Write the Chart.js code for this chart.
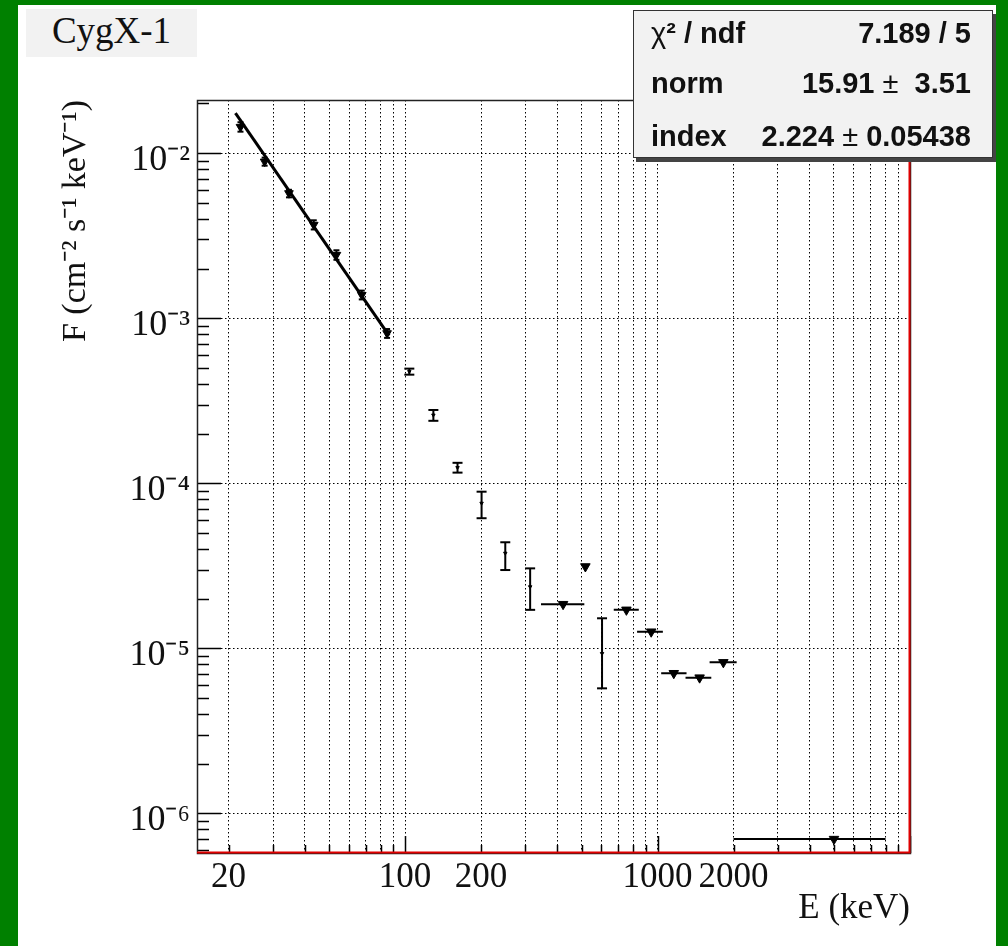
<!DOCTYPE html>
<html><head><meta charset="utf-8">
<script src="https://cdn.jsdelivr.net/npm/chart.js@4/dist/chart.umd.min.js"></script>
<style>
html,body{margin:0;padding:0;background:#008000;width:1008px;height:946px;overflow:hidden;}
#paper{position:absolute;left:18px;top:5px;width:978px;height:941px;background:#fff;}
#wrap{position:absolute;left:0;top:0;width:1008px;height:946px;}
#title{position:absolute;left:26px;top:9px;width:171px;height:48px;background:#f2f2f2;}
#title span{position:absolute;left:0;width:171px;text-align:center;top:3px;font:37px/1 'Liberation Serif',serif;color:#111;}
#stats{position:absolute;left:633px;top:10px;width:358px;height:146px;background:#f2f2f2;border:1px solid #333;box-shadow:3px 4px 0 #444;font:bold 29px/1 'Liberation Sans',Arial,sans-serif;color:#111;}
.row{position:absolute;left:17px;right:21px;height:29px;}
.row .k{position:absolute;left:0;top:0;white-space:pre;}
.row .v{position:absolute;right:0;top:0;white-space:pre;}
.pm{font-weight:normal;}
</style></head>
<body>
<div id="paper"></div>
<div id="wrap"><canvas id="c" width="1008" height="946"></canvas></div>
<div id="title"><span>CygX-1</span></div>
<div id="stats">
  <div class="row" style="top:8px"><span class="k"><span class="pm">χ</span>² / ndf</span><span class="v">7.189 / 5</span></div>
  <div class="row" style="top:58px"><span class="k">norm</span><span class="v">15.91 <span class="pm">±</span>  3.51</span></div>
  <div class="row" style="top:111px"><span class="k">index</span><span class="v">2.224 <span class="pm">±</span> 0.05438</span></div>
</div>
<script>
// ---- fit (power law, endpoints) ----
const fitE = [21.3, 86.5];
const fitF = [0.0175, 0.000785];

// ---- points inside the fit range ----
const ptE   = [22.3, 27.8, 34.7, 43.5, 53.5, 67.4, 84.9];
const ptF   = [0.01443, 0.00889, 0.00572, 0.00368, 0.00242, 0.001384, 0.000811];
const ptFlo = [0.0135, 0.0084, 0.0054, 0.00345, 0.00226, 0.00130, 0.00076];
const ptFhi = [0.0154, 0.0094, 0.0060, 0.00392, 0.00258, 0.00147, 0.00086];

// ---- spectrum points with error bars ----
const spE   = [104, 129.5, 161.4, 201, 249.5, 313, 603];
const spF   = [4.75e-4, 2.59e-4, 1.245e-4, 7.57e-5, 3.77e-5, 2.36e-5, 9.3e-6];
const spFlo = [4.55e-4, 2.39e-4, 1.16e-4, 6.14e-5, 2.98e-5, 1.71e-5, 5.72e-6];
const spFhi = [4.95e-4, 2.78e-4, 1.33e-4, 8.89e-5, 4.39e-5, 3.05e-5, 1.52e-5];

// ---- upper limits ----
const ulE   = [422.7, 518, 753, 944, 1160, 1468, 1823, 5000];
const ulF   = [1.85e-5, 3.13e-5, 1.71e-5, 1.26e-5, 7.06e-6, 6.64e-6, 8.22e-6, 6.98e-7];
const ulElo = [345.6, null, 671, 830, 1034, 1291, 1608, 2000];
const ulEhi = [513, null, 843, 1050, 1303, 1633, 2058, 8000];

// ---- axes / ticks ----
const xMin = 15, xMax = 10000;
const yMin = 5.75e-7, yMax = 0.021;
const xLabelValues = [20, 100, 200, 1000, 2000];
const xLabels = ['20', '100', '200', '1000', '2000'];
const yTickValues = [1e-6, 1e-5, 1e-4, 1e-3, 1e-2];
const yTickLabels = ['10⁻⁶', '10⁻⁵', '10⁻⁴', '10⁻³', '10⁻²'];
const xDecades = [10, 100, 1000];
const yDecades = [1e-7, 1e-6, 1e-5, 1e-4, 1e-3, 1e-2];
const mult = [1, 2, 3, 4, 5, 6, 7, 8, 9];

const xTickValues = [];
xDecades.forEach(d => mult.forEach(m => { const v = d * m; if (v >= xMin && v <= xMax) xTickValues.push(v); }));
xTickValues.push(10000);
const yMinorTicks = [];
yDecades.forEach(d => mult.slice(1).forEach(m => { const v = d * m; if (v >= yMin && v <= yMax) yMinorTicks.push(v); }));

function vSeg(E, lo, hi) { const d = []; E.forEach((e, i) => { d.push({x: e, y: lo[i]}, {x: e, y: hi[i]}, {x: e, y: null}); }); return d; }
function hSeg(lo, hi, F) { const d = []; F.forEach((f, i) => { if (lo[i] != null) d.push({x: lo[i], y: f}, {x: hi[i], y: f}, {x: hi[i], y: null}); }); return d; }
function pts(E, F) { return E.map((e, i) => ({x: e, y: F[i]})); }
function caps(E, lo, hi) { const d = []; E.forEach((e, i) => { d.push({x: e, y: lo[i]}, {x: e, y: hi[i]}); }); return d; }

const segStyle = {type: 'line', borderColor: '#000', borderWidth: 2, pointRadius: 0, spanGaps: false, fill: false, tension: 0};

const framePlugin = {
  id: 'frame',
  afterDatasetsDraw(chart) {
    const {ctx, chartArea: a, scales: {x, y}} = chart;
    ctx.save();
    ctx.strokeStyle = '#000';
    ctx.lineWidth = 1.5;
    ctx.beginPath();
    xTickValues.forEach(v => {
      const px = Math.round(x.getPixelForValue(v)) + 0.5;
      const major = xDecades.includes(v) || v === 10000;
      ctx.moveTo(px, a.bottom); ctx.lineTo(px, a.bottom - (major ? 17 : 8));
    });
    yTickValues.forEach(v => {
      const py = Math.round(y.getPixelForValue(v)) + 0.5;
      ctx.moveTo(a.left, py); ctx.lineTo(a.left + 24, py);
    });
    yMinorTicks.forEach(v => {
      const py = Math.round(y.getPixelForValue(v)) + 0.5;
      ctx.moveTo(a.left, py); ctx.lineTo(a.left + 12, py);
    });
    ctx.stroke();
    ctx.lineWidth = 1.5;
    ctx.strokeStyle = '#222';
    ctx.strokeRect(a.left + 0.5, a.top + 0.5, a.right - a.left, a.bottom - a.top);
    ctx.strokeStyle = '#e00000';
    ctx.lineWidth = 2;
    ctx.beginPath();
    ctx.moveTo(a.left, a.bottom - 0.5);
    ctx.lineTo(a.right - 0.5, a.bottom - 0.5);
    ctx.lineTo(a.right - 0.5, a.top);
    ctx.stroke();
    ctx.restore();
  }
};

new Chart(document.getElementById('c'), {
  type: 'scatter',
  data: {
    datasets: [
      Object.assign({data: vSeg(spE, spFlo, spFhi)}, segStyle),
      Object.assign({data: vSeg(ptE, ptFlo, ptFhi)}, segStyle),
      Object.assign({data: hSeg(ulElo, ulEhi, ulF)}, segStyle),
      {type: 'scatter', data: caps(spE, spFlo, spFhi), pointStyle: 'line', pointRadius: 5, borderWidth: 2, borderColor: '#000', pointBorderColor: '#000', pointBorderWidth: 2},
      {type: 'scatter', data: caps(ptE, ptFlo, ptFhi), pointStyle: 'line', pointRadius: 3, borderWidth: 2, borderColor: '#000', pointBorderColor: '#000', pointBorderWidth: 2},
      {type: 'line', data: pts(fitE, fitF), borderColor: '#000', borderWidth: 3, pointRadius: 0, fill: false, tension: 0},
      {type: 'scatter', data: pts(ptE, ptF), pointStyle: 'triangle', pointRotation: 180, pointRadius: 5, pointBackgroundColor: '#000', pointBorderColor: '#000', pointBorderWidth: 1},
      {type: 'scatter', data: pts(spE, spF), pointStyle: 'triangle', pointRotation: 180, pointRadius: 2, pointBackgroundColor: '#000', pointBorderColor: '#000', pointBorderWidth: 1},
      {type: 'scatter', data: pts(ulE, ulF), pointStyle: 'triangle', pointRotation: 180, pointRadius: 5.5, pointBackgroundColor: '#000', pointBorderColor: '#000', pointBorderWidth: 1}
    ]
  },
  options: {
    responsive: false,
    animation: false,
    events: [],
    layout: {padding: {left: 0, top: 100, right: 98, bottom: 0}},
    plugins: {legend: {display: false}, tooltip: {enabled: false}},
    scales: {
      x: {
        type: 'logarithmic', min: xMin, max: xMax,
        afterBuildTicks: s => { s.ticks = xTickValues.map(v => ({value: v})); },
        afterFit: s => { s.height = 93; },
        grid: {color: '#000', lineWidth: 1, drawTicks: false},
        border: {display: false, dash: [1.5, 2.5]},
        ticks: {
          autoSkip: false, maxRotation: 0, minRotation: 0, padding: 4, color: '#111',
          font: {family: "'Liberation Serif', serif", size: 35},
          callback: v => { const i = xLabelValues.indexOf(v); return i >= 0 ? xLabels[i] : ''; }
        },
        title: {display: true, text: 'E (keV)', align: 'end', color: '#111',
          font: {family: "'Liberation Serif', serif", size: 35}, padding: {top: 0, bottom: 16}}
      },
      y: {
        type: 'logarithmic', min: yMin, max: yMax,
        afterBuildTicks: s => { s.ticks = yTickValues.map(v => ({value: v})); },
        afterFit: s => { s.width = 197; },
        grid: {color: '#000', lineWidth: 1, drawTicks: false},
        border: {display: false, dash: [1.5, 2.5]},
        ticks: {
          autoSkip: false, padding: 7, labelOffset: 7, color: '#111',
          font: {family: "'Liberation Serif', serif", size: 36},
          callback: v => { const i = yTickValues.indexOf(v); return i >= 0 ? yTickLabels[i] : ''; }
        },
        title: {display: true, text: 'F (cm⁻² s⁻¹ keV⁻¹)', align: 'end', color: '#111',
          font: {family: "'Liberation Serif', serif", size: 34}, padding: {top: 56, bottom: 0}}
      }
    }
  },
  plugins: [framePlugin]
});
</script>
</body></html>
